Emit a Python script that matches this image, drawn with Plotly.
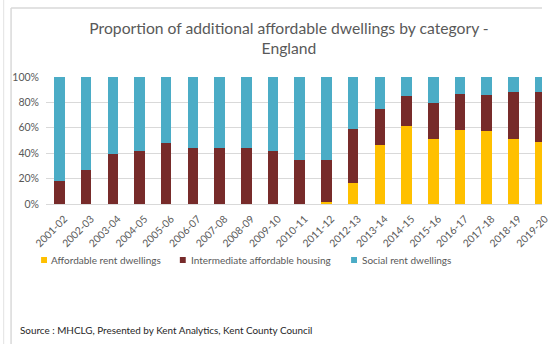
import plotly.graph_objects as go

# Financial years
years = ["2001-02", "2002-03", "2003-04", "2004-05", "2005-06", "2006-07",
         "2007-08", "2008-09", "2009-10", "2010-11", "2011-12", "2012-13",
         "2013-14", "2014-15", "2015-16", "2016-17", "2017-18", "2018-19",
         "2019-20"]

# Share of additional affordable dwellings (%) by category
affordable_rent = [0, 0, 0, 0, 0, 0, 0, 0, 0, 0, 1.8, 16.6, 46.3, 61.8,
                   50.8, 57.9, 57.1, 51.3, 48.7]
intermediate = [18.4, 27.1, 39.7, 42.1, 48.4, 44.2, 44.2, 44.2, 42.1, 35.0,
                33.2, 42.6, 28.2, 23.5, 28.4, 28.4, 28.4, 36.9, 39.5]
social_rent = [round(100 - a - b, 1) for a, b in zip(affordable_rent, intermediate)]

series_names = ["Affordable rent dwellings", "Intermediate affordable housing",
                "Social rent dwellings"]
series_colors = ["#FFC000", "#772B2A", "#4BACC6"]

y_ticks = [0, 20, 40, 60, 80, 100]
y_tick_text = [f"{v}%" for v in y_ticks]

W, H = 550, 344
ML, MR, MT, MB = 46, 0, 77, 140
PW, PH = W - ML - MR, H - MT - MB


def px_x(px):
    return (px - ML) / PW


def px_y(py):
    return (H - MB - py) / PH


fig = go.Figure()
for name, vals, col in zip(series_names, [affordable_rent, intermediate, social_rent],
                           series_colors):
    fig.add_trace(go.Bar(
        x=years, y=vals, name=name,
        marker=dict(color=col, line=dict(width=0)),
    ))

grey = "#595959"
fig.update_layout(
    width=W, height=H,
    margin=dict(l=ML, r=MR, t=MT, b=MB),
    barmode="stack", bargap=0.606,
    plot_bgcolor="white", paper_bgcolor="white",
    font=dict(family="Lato", color=grey, size=10),
    title=dict(
        text="Proportion of additional affordable dwellings by category -<br>England",
        x=289 / W, xref="container", xanchor="center",
        y=1 - 34 / H, yref="container", yanchor="middle",
        font=dict(family="Lato", size=15.7, color=grey),
    ),
    xaxis=dict(
        type="category", range=[-0.5, 18.07],
        tickangle=-45, tickfont=dict(size=10.3, color=grey),
        showgrid=False, showline=False, ticks="",
        ticklabelstandoff=6, ticklabelshift=5,
    ),
    yaxis=dict(
        range=[0, 100], tickvals=y_ticks, ticktext=y_tick_text,
        tickfont=dict(size=10.5, color=grey),
        showgrid=True, gridcolor="#D9D9D9", gridwidth=1,
        zeroline=True, zerolinecolor="#D9D9D9", zerolinewidth=1,
        ticks="", ticklabelstandoff=6,
    ),
    showlegend=False,
)

# Legend drawn as small colour squares with labels
legend_square_x = [41, 182, 356]
legend_text_x = [49, 191, 365]
legend_y = 260
for name, col, sx, tx in zip(series_names, series_colors, legend_square_x, legend_text_x):
    fig.add_shape(type="rect", xref="paper", yref="paper",
                  x0=px_x(sx), x1=px_x(sx + 6),
                  y0=px_y(legend_y - 3), y1=px_y(legend_y + 3),
                  fillcolor=col, line=dict(width=0))
    fig.add_annotation(text=name, xref="paper", yref="paper",
                       x=px_x(tx), y=px_y(legend_y), xanchor="left",
                       yanchor="middle", showarrow=False,
                       font=dict(size=10, color=grey))

# Source note
fig.add_annotation(
    text="Source : MHCLG, Presented by Kent Analytics, Kent County Council",
    xref="paper", yref="paper", x=px_x(18), y=px_y(330),
    xanchor="left", yanchor="middle", showarrow=False,
    font=dict(size=9.9, color="#262626"),
)

# Frame lines around the chart area
frame = "#D9D9D9"
fig.add_shape(type="line", xref="paper", yref="paper",
              x0=px_x(3), x1=px_x(3), y0=px_y(0), y1=px_y(H),
              line=dict(color="#E3E3E3", width=1))
fig.add_shape(type="line", xref="paper", yref="paper",
              x0=px_x(10.5), x1=px_x(10.5), y0=px_y(8), y1=px_y(H),
              line=dict(color=frame, width=1.5))
fig.add_shape(type="line", xref="paper", yref="paper",
              x0=px_x(10.5), x1=px_x(W), y0=px_y(8), y1=px_y(8),
              line=dict(color=frame, width=1.5))

fig.write_html("out.html")
